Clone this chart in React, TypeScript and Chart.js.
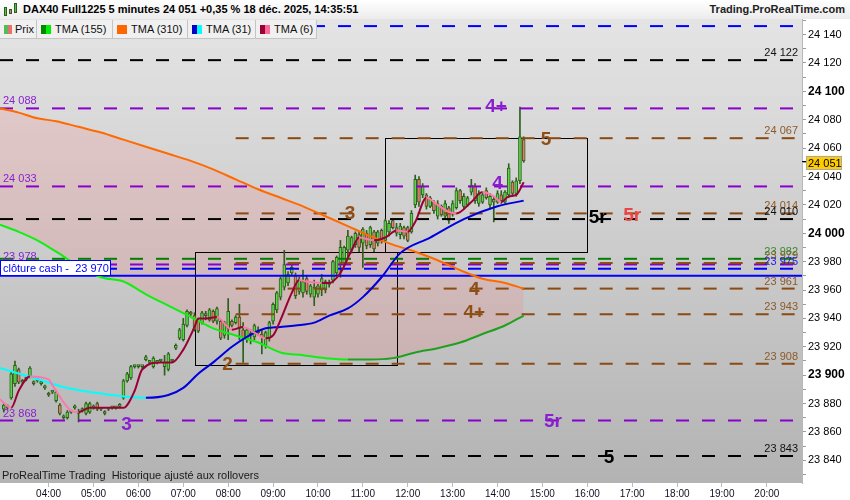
import React, { useEffect, useRef } from "react";
import { Chart, registerables } from "chart.js";

Chart.register(...registerables);

const FONT = '"Liberation Sans", Arial, Helvetica, sans-serif';

// ---------------- data ----------------
const TITLE = "DAX40 Full1225 5 minutes 24 051 +0,35 % 18 déc. 2025, 14:35:51";
const SITE = "Trading.ProRealTime.com";
const FOOTER = "ProRealTime Trading  Historique ajusté aux rollovers";
const LEGEND_NAMES = ["Prix", "TMA (155)", "TMA (310)", "TMA (31)", "TMA (6)"];

const X_RANGE = ["02:55", "20:47"];
const X_TICKS = ["04:00", "05:00", "06:00", "07:00", "08:00", "09:00", "10:00", "11:00", "12:00",
  "13:00", "14:00", "15:00", "16:00", "17:00", "18:00", "19:00", "20:00"];
const Y_RANGE = [23824, 24151];
const Y_LABELS = [23840, 23860, 23880, 23900, 23920, 23940, 23960, 23980, 24000, 24020, 24040,
  24060, 24080, 24100, 24120, 24140];

const CANDLE_START = "03:00";
const CANDLE_STEP = 5;
// [open, high, low, close]
const CANDLES: number[][] = [
  [23876, 23880, 23874, 23879], [23878, 23879, 23876, 23877], [23884, 23902, 23883, 23901], [23894, 23910, 23892, 23907],
  [23904, 23905, 23894, 23895], [23896, 23897, 23894, 23895], [23897, 23898, 23896, 23897], [23899, 23906, 23898, 23905],
  [23895, 23896, 23893, 23894], [23896, 23897, 23895, 23896], [23894, 23896, 23893, 23894], [23891, 23893, 23890, 23891],
  [23887, 23888, 23885, 23886], [23888, 23889, 23887, 23888], [23882, 23889, 23881, 23888], [23879, 23880, 23872, 23873],
  [23871, 23872, 23869, 23870], [23870, 23875, 23869, 23874], [23874, 23875, 23873, 23874], [23877, 23879, 23876, 23878],
  [23874, 23876, 23867, 23873], [23875, 23877, 23874, 23876], [23873, 23881, 23872, 23880], [23874, 23881, 23873, 23880],
  [23878, 23879, 23876, 23877], [23880, 23881, 23875, 23876], [23876, 23877, 23875, 23876], [23874, 23875, 23872, 23873],
  [23876, 23877, 23875, 23876], [23877, 23878, 23876, 23877], [23877, 23878, 23876, 23877], [23878, 23880, 23877, 23879],
  [23884, 23897, 23883, 23896], [23896, 23902, 23895, 23901], [23898, 23907, 23897, 23906], [23906, 23907, 23905, 23906],
  [23906, 23907, 23905, 23906], [23906, 23907, 23905, 23906], [23911, 23914, 23910, 23913], [23909, 23910, 23908, 23909],
  [23906, 23913, 23905, 23912], [23909, 23910, 23908, 23909], [23910, 23911, 23909, 23910], [23906, 23914, 23900, 23909],
  [23904, 23916, 23903, 23915], [23910, 23911, 23909, 23910], [23919, 23922, 23918, 23921], [23926, 23933, 23925, 23932],
  [23925, 23940, 23924, 23936], [23935, 23946, 23934, 23945], [23944, 23945, 23942, 23943], [23942, 23944, 23931, 23932],
  [23938, 23940, 23930, 23931], [23937, 23945, 23936, 23944], [23943, 23945, 23939, 23942], [23939, 23947, 23938, 23946],
  [23945, 23946, 23937, 23938], [23938, 23948, 23936, 23947], [23938, 23939, 23925, 23926], [23928, 23938, 23926, 23937],
  [23933, 23954, 23925, 23945], [23938, 23939, 23934, 23935], [23937, 23942, 23936, 23941], [23941, 23950, 23925, 23933],
  [23932, 23937, 23909, 23926], [23925, 23933, 23923, 23932], [23928, 23932, 23922, 23929], [23927, 23936, 23925, 23935],
  [23932, 23934, 23928, 23930], [23929, 23932, 23915, 23927], [23921, 23931, 23919, 23930], [23926, 23938, 23924, 23937],
  [23938, 23951, 23936, 23950], [23946, 23959, 23944, 23958], [23955, 23969, 23953, 23968], [23962, 23988, 23960, 23978],
  [23965, 23973, 23963, 23971], [23972, 23978, 23970, 23976], [23970, 23972, 23954, 23956], [23959, 23969, 23957, 23967],
  [23958, 23974, 23955, 23966], [23968, 23970, 23957, 23959], [23957, 23964, 23955, 23963], [23955, 23967, 23949, 23962],
  [23957, 23964, 23955, 23963], [23960, 23971, 23956, 23968], [23960, 23967, 23958, 23966], [23964, 23967, 23962, 23965],
  [23967, 23981, 23965, 23980], [23972, 23984, 23970, 23983], [23978, 23995, 23969, 23990], [23979, 23991, 23977, 23990],
  [23988, 24002, 23983, 23998], [23988, 23998, 23986, 23997], [23992, 24001, 23990, 24000], [23999, 24001, 23987, 23990],
  [23993, 24004, 23976, 24003], [24000, 24002, 23989, 23991], [23992, 24005, 23990, 24004], [24001, 24002, 23987, 23989],
  [23993, 24002, 23991, 24001], [24002, 24003, 23993, 23995], [23995, 24010, 23994, 24009], [24001, 24009, 23998, 24007],
  [24009, 24010, 24003, 24004], [24004, 24007, 23998, 24000], [23999, 24007, 23996, 24005], [24004, 24005, 23996, 23998],
  [24004, 24005, 23994, 23995], [24001, 24016, 24000, 24014], [24020, 24041, 24018, 24038], [24038, 24040, 24019, 24022],
  [24027, 24035, 24025, 24033], [24027, 24028, 24017, 24019], [24019, 24026, 24018, 24025], [24022, 24023, 24014, 24016],
  [24012, 24023, 24010, 24021], [24019, 24020, 24012, 24013], [24012, 24023, 24010, 24021], [24018, 24019, 24007, 24009],
  [24014, 24023, 24012, 24021], [24018, 24032, 24017, 24030], [24030, 24031, 24021, 24023], [24019, 24028, 24017, 24026],
  [24020, 24026, 24019, 24025], [24029, 24038, 24027, 24034], [24033, 24035, 24021, 24023], [24021, 24030, 24019, 24028],
  [24022, 24029, 24021, 24027], [24030, 24032, 24024, 24025], [24020, 24028, 24018, 24026], [24024, 24026, 24008, 24022],
  [24022, 24030, 24021, 24028], [24027, 24030, 24021, 24023], [24022, 24030, 24021, 24029], [24027, 24049, 24025, 24046],
  [24036, 24037, 24026, 24028], [24028, 24039, 24026, 24037], [24037, 24089, 24035, 24068], [24066, 24068, 24050, 24051],
];

const SLOW_TIMES = ["02:55", "03:20", "03:45", "04:10", "04:40", "05:10", "05:40", "06:10", "06:40", "07:10",
  "07:40", "08:10", "08:40", "09:10", "09:40", "10:10", "10:40", "11:10", "11:40", "12:10", "12:40", "13:10",
  "13:40", "14:10", "14:35"];
const TMA155 = [24006, 24001, 23995, 23987, 23977, 23969, 23966, 23957, 23949, 23941, 23933, 23928, 23923,
  23916, 23914, 23912, 23911, 23911, 23912, 23916, 23919, 23923, 23929, 23935, 23942];
const TMA310 = [24088, 24085, 24081, 24079, 24075, 24071, 24066, 24061, 24056, 24051, 24045, 24038, 24031,
  24025, 24019, 24012, 24005, 23998, 23992, 23987, 23981, 23974, 23968, 23965, 23961];

const TMA31_TIMES = ["02:55", "03:40", "04:25", "05:10", "05:40", "06:10", "06:40", "07:00", "07:20", "07:40",
  "08:05", "08:25", "08:50", "09:10", "09:30", "09:55", "10:15", "10:40", "11:00", "11:25", "11:50", "12:30",
  "13:15", "14:00", "14:35"];
const TMA31 = [23905, 23898, 23891, 23887, 23885, 23884, 23886, 23891, 23901, 23909, 23920, 23927, 23933,
  23934, 23935, 23937, 23942, 23947, 23955, 23969, 23986, 23997, 24010, 24019, 24023];

const TMA6_TIMES = ["02:55", "03:10", "03:20", "03:35", "04:00", "04:05", "04:30", "04:40", "04:55", "05:20",
  "05:40", "05:55", "06:05", "06:30", "06:45", "07:00", "07:15", "07:20", "07:30", "07:45", "08:05", "08:20",
  "08:35", "08:50", "09:00", "09:10", "09:25", "09:35", "09:45", "10:05", "10:15", "10:30", "10:45", "10:55",
  "11:15", "11:30", "11:45", "12:00", "12:10", "12:25", "12:40", "12:55", "13:05", "13:25", "13:40", "13:55",
  "14:05", "14:15", "14:25", "14:35"];
const TMA6 = [23883, 23877, 23889, 23899, 23897, 23893, 23875, 23874, 23877, 23877, 23877, 23889, 23904,
  23909, 23909, 23918, 23934, 23940, 23940, 23941, 23932, 23934, 23930, 23926, 23928, 23939, 23958, 23967,
  23966, 23965, 23965, 23972, 23988, 23997, 23995, 23997, 24002, 24001, 24008, 24025, 24020, 24015, 24014,
  24022, 24029, 24026, 24022, 24026, 24027, 24036];

const LEVEL_VALUES = [24146, 24122, 24088, 24067, 24033, 24014, 24010, 23982, 23979, 23978, 23975, 23961,
  23943, 23908, 23868, 23843];
const LEVEL_START = ["02:55", "02:55", "02:55", "08:10", "02:55", "08:10", "02:55", "02:55", "08:10", "02:55",
  "02:55", "08:10", "08:10", "08:10", "02:55", "02:55"];
const CASH_CLOSE = 23970;
const CASH_LABEL = "clôture cash -  23 970";
const LAST_PRICE = 24051;

const BOX_START = ["07:15", "11:30"];
const BOX_END = ["11:45", "16:00"];
const BOX_HIGH = [23987, 24067];
const BOX_LOW = [23907, 23987];

const MARK_TEXT = ["4+", "5", "4", "3", "5r", "5r", "4", "4+", "2", "3", "5r", "5"];
const MARK_TIME = ["13:58", "15:05", "14:00", "10:43", "16:14", "17:00", "13:29", "13:29", "07:59", "05:44", "15:14", "16:29"];
const MARK_VALUE = [24089, 24066, 24035, 24014, 24011, 24012, 23960, 23944, 23907, 23865, 23867, 23842];

// ---------------- styles ----------------
const LEVEL_KIND = ["blue", "black", "purple", "brown", "purple", "brown", "black", "green", "brown", "purple",
  "blue", "brown", "brown", "brown", "purple", "black"];
const LEVEL_SIDE = ["", "R", "L", "R", "L", "R", "R", "R", "R", "L", "R", "R", "R", "R", "L", "R"];
const MARK_KIND = ["purple", "brown", "purple", "brown", "black", "red", "brown", "brown", "brown", "purple", "purple", "black"];
const LINE_COLOR: Record<string, string> = { blue: "#0000ff", black: "#000000", purple: "#8a00cc", brown: "#8b4a12", green: "#007f00" };
const TEXT_COLOR: Record<string, string> = { blue: "#1a1aff", black: "#111111", purple: "#8a1fd0", brown: "#8b5a2b", green: "#2f8f2f" };
const MARK_COLOR: Record<string, string> = { blue: "#0000ff", black: "#000000", purple: "#8a1fd0", brown: "#8e4f16", red: "#ee4444" };
const LEGEND_ICONS = [["#55bb55", "#e87070"], ["#008800", "#00ee00"], ["#ff6600", "#ff6600"], ["#0000cc", "#00ffff"], ["#990033", "#ff6699"]];
const LEGEND_WIDTHS = [37, 76, 75, 68, 61];
const PINK = "rgba(255,110,110,0.17)";

// ---------------- helpers ----------------
const toMin = (s: string) => {
  const [h, m] = s.split(":").map(Number);
  return h * 60 + m;
};
const fmtTime = (v: number) =>
  `${String(Math.floor(v / 60)).padStart(2, "0")}:${String(Math.round(v % 60)).padStart(2, "0")}`;
const fmtPrice = (v: number) => `${Math.floor(v / 1000)} ${String(Math.round(v) % 1000).padStart(3, "0")}`;
const candleTime = (i: number) => toMin(CANDLE_START) + i * CANDLE_STEP;
const series = (times: string[], vals: number[]) => times.map((t, i) => ({ x: toMin(t), y: vals[i] }));
const dirColor = (up: string, down: string) => (c: any) => (c.p1.parsed.y >= c.p0.parsed.y ? up : down);

const bgPlugin = {
  id: "bgPlugin",
  beforeDraw(chart: any) {
    const { ctx, chartArea: a, width, height } = chart;
    ctx.save();
    ctx.fillStyle = "#ffffff";
    ctx.fillRect(0, 0, width, height);
    const g = ctx.createLinearGradient(0, a.top, 0, a.bottom);
    g.addColorStop(0, "#e4e4e4");
    g.addColorStop(1, "#b3b3b3");
    ctx.fillStyle = g;
    ctx.fillRect(a.left, a.top, a.right - a.left, a.bottom - a.top);
    ctx.restore();
  },
};

const overlayPlugin = {
  id: "overlayPlugin",
  beforeDatasetsDraw(chart: any) {
    const { ctx, chartArea: a } = chart;
    const x = chart.scales.x;
    const y = chart.scales.y;
    ctx.save();
    ctx.beginPath();
    ctx.rect(a.left, a.top, a.right - a.left, a.bottom - a.top);
    ctx.clip();
    ctx.strokeStyle = "#000";
    ctx.lineWidth = 1;
    BOX_START.forEach((s, i) => {
      const x0 = Math.round(x.getPixelForValue(toMin(s))) + 0.5;
      const x1 = Math.round(x.getPixelForValue(toMin(BOX_END[i]))) + 0.5;
      const y0 = Math.round(y.getPixelForValue(BOX_HIGH[i])) + 0.5;
      const y1 = Math.round(y.getPixelForValue(BOX_LOW[i])) + 0.5;
      ctx.strokeRect(x0, y0, x1 - x0, y1 - y0);
    });
    ctx.restore();
  },
  afterDatasetsDraw(chart: any) {
    const { ctx, chartArea: a } = chart;
    const x = chart.scales.x;
    const y = chart.scales.y;
    ctx.save();
    ctx.beginPath();
    ctx.rect(a.left, a.top, a.right - a.left, a.bottom - a.top);
    ctx.clip();
    // level labels
    ctx.font = `11px ${FONT}`;
    ctx.textBaseline = "alphabetic";
    LEVEL_VALUES.forEach((v, i) => {
      const side = LEVEL_SIDE[i];
      if (!side) return;
      const py = y.getPixelForValue(v) - 4;
      ctx.fillStyle = TEXT_COLOR[LEVEL_KIND[i]];
      if (side === "R") {
        ctx.textAlign = "right";
        ctx.fillText(fmtPrice(v), a.right - 4, py);
      } else {
        ctx.textAlign = "left";
        ctx.fillText(fmtPrice(v), a.left + 3, py);
      }
    });
    // cash label
    const yc = Math.round(y.getPixelForValue(CASH_CLOSE));
    ctx.fillStyle = "#ffffff";
    ctx.fillRect(a.left, yc - 16, 111, 16);
    ctx.strokeStyle = "#0000ff";
    ctx.lineWidth = 1;
    ctx.strokeRect(a.left + 0.5, yc - 15.5, 110, 15);
    ctx.fillStyle = "#0000ff";
    ctx.textAlign = "left";
    ctx.font = `11px ${FONT}`;
    ctx.fillText(CASH_LABEL, a.left + 3, yc - 4);
    // big marks
    ctx.font = `bold 19px ${FONT}`;
    ctx.textAlign = "center";
    ctx.textBaseline = "middle";
    MARK_TEXT.forEach((t, i) => {
      ctx.fillStyle = MARK_COLOR[MARK_KIND[i]];
      ctx.fillText(t, x.getPixelForValue(toMin(MARK_TIME[i])), y.getPixelForValue(MARK_VALUE[i]));
    });
    ctx.restore();
  },
  afterDraw(chart: any) {
    const { ctx, chartArea: a } = chart;
    const y = chart.scales.y;
    const yp = y.getPixelForValue(LAST_PRICE);
    ctx.save();
    ctx.fillStyle = "#000";
    ctx.fillRect(a.right, Math.round(yp), 4, 1);
    ctx.fillStyle = "#ffcc00";
    ctx.fillRect(a.right + 4, yp - 5, 36, 13.5);
    ctx.strokeStyle = "#a8a8a8";
    ctx.lineWidth = 1;
    ctx.strokeRect(a.right + 4.5, Math.round(yp - 5) + 0.5, 35, 13);
    ctx.fillStyle = "#000";
    ctx.font = `11px ${FONT}`;
    ctx.textAlign = "left";
    ctx.textBaseline = "alphabetic";
    ctx.fillText(fmtPrice(LAST_PRICE), a.right + 6, yp + 6);
    ctx.restore();
  },
};

export default function App() {
  const ref = useRef<HTMLCanvasElement | null>(null);

  useEffect(() => {
    if (!ref.current) return;
    Chart.defaults.font.family = FONT;
    const xMin = toMin(X_RANGE[0]);
    const xMax = toMin(X_RANGE[1]);

    const levelSets = LEVEL_VALUES.map((v, i) => ({
      type: "line",
      data: [{ x: toMin(LEVEL_START[i]), y: v }, { x: xMax + 10, y: v }],
      borderColor: LINE_COLOR[LEVEL_KIND[i]],
      borderWidth: 2,
      borderDash: [13, 13],
      pointRadius: 0,
      fill: false,
      order: 35,
    }));
    const cashSet = {
      type: "line",
      data: [{ x: xMin - 10, y: CASH_CLOSE }, { x: xMax + 10, y: CASH_CLOSE }],
      borderColor: "#0000ff",
      borderWidth: 2,
      pointRadius: 0,
      fill: false,
      order: 34,
    };
    const wickSet = {
      type: "bar",
      data: CANDLES.map((c, i) => ({ x: candleTime(i), y: [c[2], c[1]] })),
      backgroundColor: "#2d5e1c",
      borderWidth: 0,
      barThickness: 1,
      minBarLength: 1,
      grouped: false,
      order: 40,
    };
    const bodySet = {
      type: "bar",
      data: CANDLES.map((c, i) => ({ x: candleTime(i), y: [c[0], c[3]] })),
      backgroundColor: CANDLES.map((c) => (c[3] >= c[0] ? "#5ed44a" : "#f07a6a")),
      borderColor: "#2d5e1c",
      borderWidth: 1,
      borderSkipped: false,
      barThickness: 3,
      minBarLength: 2,
      grouped: false,
      order: 39,
    };
    const greenIndex = levelSets.length + 3;
    const tmaBase = { type: "line", pointRadius: 0, borderWidth: 2, cubicInterpolationMode: "monotone" };
    const tma155Set = {
      ...tmaBase,
      data: series(SLOW_TIMES, TMA155),
      borderColor: "#00ee00",
      segment: { borderColor: dirColor("#20a020", "#11ee11") },
      fill: false,
      order: 30,
    };
    const tma310Set = {
      ...tmaBase,
      data: series(SLOW_TIMES, TMA310),
      borderColor: "#ff6a00",
      fill: { target: greenIndex, above: PINK, below: PINK },
      order: 29,
    };
    const tma31Set = {
      ...tmaBase,
      data: series(TMA31_TIMES, TMA31),
      borderColor: "#0000dd",
      segment: { borderColor: dirColor("#0000dd", "#00ffff") },
      fill: false,
      order: 28,
    };
    const tma6Set = {
      ...tmaBase,
      data: series(TMA6_TIMES, TMA6),
      borderColor: "#990033",
      segment: { borderColor: dirColor("#990033", "#ff77aa") },
      fill: false,
      order: 27,
    };

    const yTicks: number[] = [];
    Y_LABELS.forEach((v) => yTicks.push(v - 10, v));
    yTicks.push(Y_LABELS[Y_LABELS.length - 1] + 10);

    const chart = new Chart(ref.current, {
      type: "line",
      data: {
        datasets: [...levelSets, cashSet, wickSet, bodySet, tma155Set, tma310Set, tma31Set, tma6Set] as any,
      },
      options: {
        responsive: false,
        animation: false,
        events: [],
        layout: { padding: { top: 19, left: 0, right: 0, bottom: 0 } },
        plugins: {
          legend: { display: false },
          tooltip: { enabled: false },
          filler: { propagate: false, drawTime: "beforeDatasetsDraw" },
        },
        scales: {
          x: {
            type: "linear",
            min: xMin,
            max: xMax,
            offset: false,
            afterBuildTicks: (s: any) => {
              s.ticks = X_TICKS.map((t) => ({ value: toMin(t) }));
            },
            afterFit: (s: any) => {
              s.height = 17;
            },
            ticks: {
              callback: (v: any) => fmtTime(Number(v)),
              font: { size: 10 },
              color: "#101020",
              padding: 1,
              maxRotation: 0,
              autoSkip: false,
            },
            grid: { drawOnChartArea: false, drawTicks: true, tickLength: 4, color: "#bdbdbd", offset: false },
            border: { display: false },
          },
          y: {
            type: "linear",
            position: "right",
            min: Y_RANGE[0],
            max: Y_RANGE[1],
            afterBuildTicks: (s: any) => {
              s.ticks = yTicks.map((v) => ({ value: v }));
            },
            afterFit: (s: any) => {
              s.width = 48;
            },
            ticks: {
              callback: (v: any) => (Number(v) % 20 === 0 ? fmtPrice(Number(v)) : ""),
              font: (c: any) =>
                c.tick && c.tick.value % 100 === 0 ? { size: 12, weight: "bold" } : { size: 11 },
              color: "#000",
              padding: 2,
              autoSkip: false,
            },
            grid: { drawOnChartArea: false, drawTicks: true, tickLength: 4, color: "#9a9a9a" },
            border: { display: true, color: "#b8b8b8" },
          },
        },
      } as any,
      plugins: [bgPlugin, overlayPlugin] as any,
    });
    return () => chart.destroy();
  }, []);

  return (
    <div style={{ position: "absolute", left: 0, top: 0, width: 850, height: 500, overflow: "hidden", fontFamily: FONT, background: "#fff" }}>
      <canvas ref={ref} width={850} height={500} style={{ position: "absolute", left: 0, top: 0, width: 850, height: 500 }} />
      <div style={{ position: "absolute", left: 0, top: 0, width: 850, height: 19, background: "linear-gradient(#ffffff, #ececec)" }}>
        <div style={{ position: "absolute", left: 4, top: 7, width: 3, height: 9, background: "#55bb55", border: "1px solid #2d5e1c", boxSizing: "border-box" }} />
        <div style={{ position: "absolute", left: 9, top: 9, width: 3, height: 5, background: "#e87070", border: "1px solid #2d5e1c", boxSizing: "border-box" }} />
        <div style={{ position: "absolute", left: 14, top: 3, width: 3, height: 10, background: "#55bb55", border: "1px solid #2d5e1c", boxSizing: "border-box" }} />
        <div style={{ position: "absolute", left: 23, top: 3, fontSize: 11, fontWeight: "bold", color: "#000", whiteSpace: "nowrap", lineHeight: "13px" }}>{TITLE}</div>
        <div style={{ position: "absolute", right: 5, top: 3, fontSize: 11, fontWeight: "bold", color: "#222", whiteSpace: "nowrap", lineHeight: "13px" }}>{SITE}</div>
      </div>
      <div style={{ position: "absolute", left: 0, top: 20, height: 19, display: "flex" }}>
        {LEGEND_NAMES.map((n, i) => (
          <div key={n} style={{ width: LEGEND_WIDTHS[i], height: 19, boxSizing: "border-box", background: "#f0f0f0", borderRight: "1px solid #c4c4c4", borderBottom: "1px solid #c4c4c4", display: "flex", alignItems: "center", paddingLeft: 4 }}>
            <span style={{ display: "inline-block", width: i === 0 ? 4 : 5, height: 9, background: LEGEND_ICONS[i][0] }} />
            <span style={{ display: "inline-block", width: i === 0 ? 4 : 5, height: 9, background: LEGEND_ICONS[i][1] }} />
            <span style={{ marginLeft: i === 0 ? 3 : 4, fontSize: 11, color: "#111", whiteSpace: "nowrap" }}>{n}</span>
          </div>
        ))}
      </div>
      <div style={{ position: "absolute", left: 2, top: 469, fontSize: 11, color: "#1a1a1a", whiteSpace: "pre" }}>{FOOTER}</div>
    </div>
  );
}
